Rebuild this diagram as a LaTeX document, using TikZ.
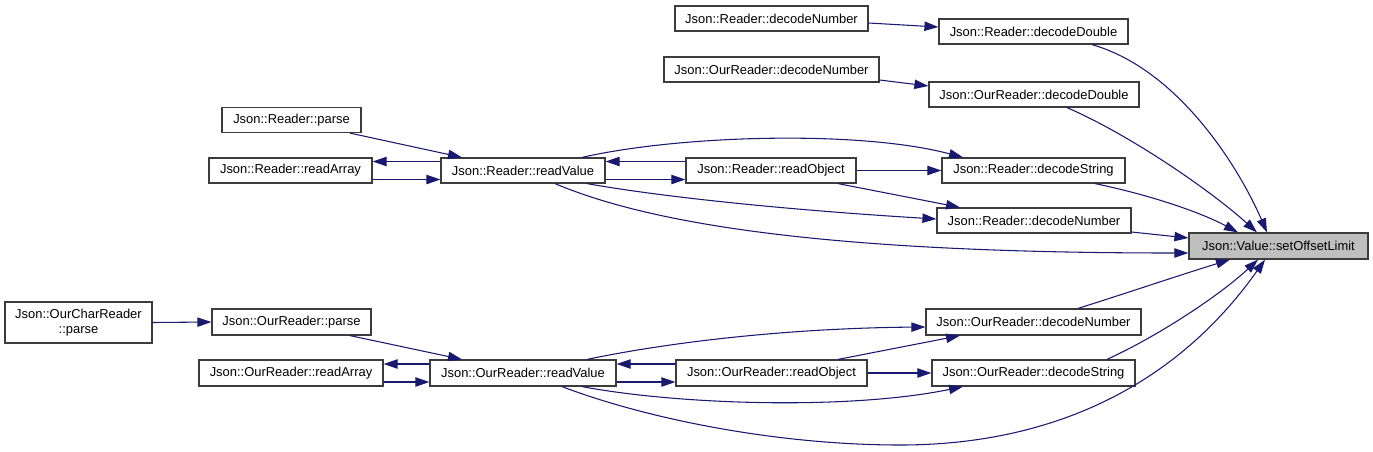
\documentclass[tikz,border=0pt]{standalone}
\usepackage{fontspec}
\setmainfont{Liberation Sans}
\usetikzlibrary{calc,arrows.meta}
\definecolor{edgec}{RGB}{25,25,112}
\definecolor{boxc}{RGB}{60,60,60}
\definecolor{solfill}{RGB}{191,191,191}
\newcommand{\mybox}[6]{\node[box,minimum width=#4*0.75pt,minimum height=#5*0.75pt] (#1) at (#2,#3) {#6};}
\begin{document}
\begin{tikzpicture}[x=0.75pt,y=-0.75pt,
  box/.style={draw=boxc,line width=0.9pt,fill=white,inner sep=0pt,align=center,
    font=\fontsize{9.7}{11.5}\selectfont},
  edge/.style={draw=edgec,line width=0.8pt,-{Triangle[length=10.5pt,width=7pt]}}]
\useasboundingbox (0,0) rectangle (1373,451);
% nodes
\mybox{rdnA}{771.5}{18.5}{193}{25}{Json::Reader::decodeNumber}
\mybox{rdd}{1033.5}{31.5}{189}{25}{Json::Reader::decodeDouble}
\mybox{odnA}{771.5}{69.5}{215}{25}{Json::OurReader::decodeNumber}
\mybox{odd}{1034}{94.5}{210}{25}{Json::OurReader::decodeDouble}
\mybox{rparse}{291.5}{120}{139}{25}{Json::Reader::parse}
\mybox{rra}{290.5}{170.5}{163}{25}{Json::Reader::readArray}
\mybox{rrv}{523}{170.5}{164}{25}{Json::Reader::readValue}
\mybox{rro}{771}{170.5}{170}{25}{Json::Reader::readObject}
\mybox{rds}{1033.5}{170.5}{183}{25}{Json::Reader::decodeString}
\mybox{rdn}{1034}{220.5}{194}{25}{Json::Reader::decodeNumber}
\node[box,fill=solfill,minimum width=179*0.75pt,minimum height=26*0.75pt] (sol) at (1278.5,246) {Json::Value::setOffsetLimit};
\mybox{ocr}{78.5}{322.5}{147}{41}{Json::OurCharReader\\::parse}
\mybox{orp}{291.5}{322}{159}{26}{Json::OurReader::parse}
\mybox{ora}{291}{373}{184}{26}{Json::OurReader::readArray}
\mybox{orv}{523}{373}{186}{26}{Json::OurReader::readValue}
\mybox{oro}{771.5}{373}{191}{26}{Json::OurReader::readObject}
\mybox{odn}{1033.5}{322}{215}{26}{Json::OurReader::decodeNumber}
\mybox{ods}{1033.5}{373}{203}{26}{Json::OurReader::decodeString}
% edges into setOffsetLimit
\draw[edge] ($(rdd.south)+(58.5,0)$) .. controls (1180,70) and (1240,170) .. ($(sol.north)+(-11.5,0)$);
\draw[edge] ($(odd.south)+(33,0)$) .. controls (1130,135) and (1210,190) .. ($(sol.north)+(-21.5,0)$);
\draw[edge] ($(rds.south)+(61.5,0)$) .. controls (1150,195) and (1200,212) .. ($(sol.north)+(-40.5,0)$);
\draw[edge] ($(rdn.east)+(0,11.5)$) -- ($(sol.west)+(0,-8)$);
\draw[edge] ($(rrv.south)+(32,0)$) .. controls (660,228) and (850,253) .. ($(sol.west)+(0,7)$);
\draw[edge] ($(odn.north)+(44.5,0)$) .. controls (1130,292) and (1180,275) .. ($(sol.south)+(-48.5,0)$);
\draw[edge] ($(ods.north)+(73.5,0)$) .. controls (1160,335) and (1220,295) .. ($(sol.south)+(-20.5,0)$);
\draw[edge] ($(orv.south)+(39,0)$) .. controls (650,420) and (780,445) .. (900,445)
  .. controls (1060,445) and (1180,380) .. ($(sol.south)+(-13.5,0)$);
% top group
\draw[edge] ($(rdnA.east)+(0,4.5)$) -- ($(rdd.west)+(0,-4.5)$);
\draw[edge] ($(odnA.east)+(0,10.5)$) -- ($(odd.west)+(0,-8.5)$);
\draw[edge] ($(rparse.south)+(58.5,0)$) -- ($(rrv.north)+(-61,0)$);
\draw[edge] ($(rrv.west)+(0,-9)$) -- ($(rra.east)+(0,-9)$);
\draw[edge] ($(rra.east)+(0,9)$) -- ($(rrv.west)+(0,9)$);
\draw[edge] ($(rro.west)+(0,-9)$) -- ($(rrv.east)+(0,-9)$);
\draw[edge] ($(rrv.east)+(0,9)$) -- ($(rro.west)+(0,9)$);
\draw[edge] ($(rrv.north)+(59,0)$) .. controls (680,135) and (860,130) .. ($(rds.north)+(-70.5,0)$);
\draw[edge] (rro.east) -- (rds.west);
\draw[edge] ($(rro.south)+(67,0)$) -- ($(rdn.north)+(-74,0)$);
\draw[edge] ($(rrv.south)+(64,0)$) .. controls (680,200) and (820,212) .. ($(rdn.west)+(0,-1.5)$);
% bottom group
\draw[edge] (ocr.east) -- (orp.west);
\draw[edge] ($(orp.south)+(58.5,0)$) -- ($(orv.north)+(-61,0)$);
\draw[edge] ($(orv.west)+(0,-9)$) -- ($(ora.east)+(0,-9)$);
\draw[edge] ($(ora.east)+(0,9)$) -- ($(orv.west)+(0,9)$);
\draw[edge] ($(oro.west)+(0,-9)$) -- ($(orv.east)+(0,-9)$);
\draw[edge] ($(orv.east)+(0,9)$) -- ($(oro.west)+(0,9)$);
\draw[edge] ($(orv.north)+(64,0)$) .. controls (680,340) and (800,328) .. ($(odn.west)+(0,5)$);
\draw[edge] ($(oro.north)+(66.5,0)$) -- ($(odn.south)+(-73.5,0)$);
\draw[edge] (oro.east) -- (ods.west);
\draw[edge] ($(orv.south)+(59,0)$) .. controls (680,405) and (850,410) .. ($(ods.south)+(-70.5,0)$);
\end{tikzpicture}
\end{document}
